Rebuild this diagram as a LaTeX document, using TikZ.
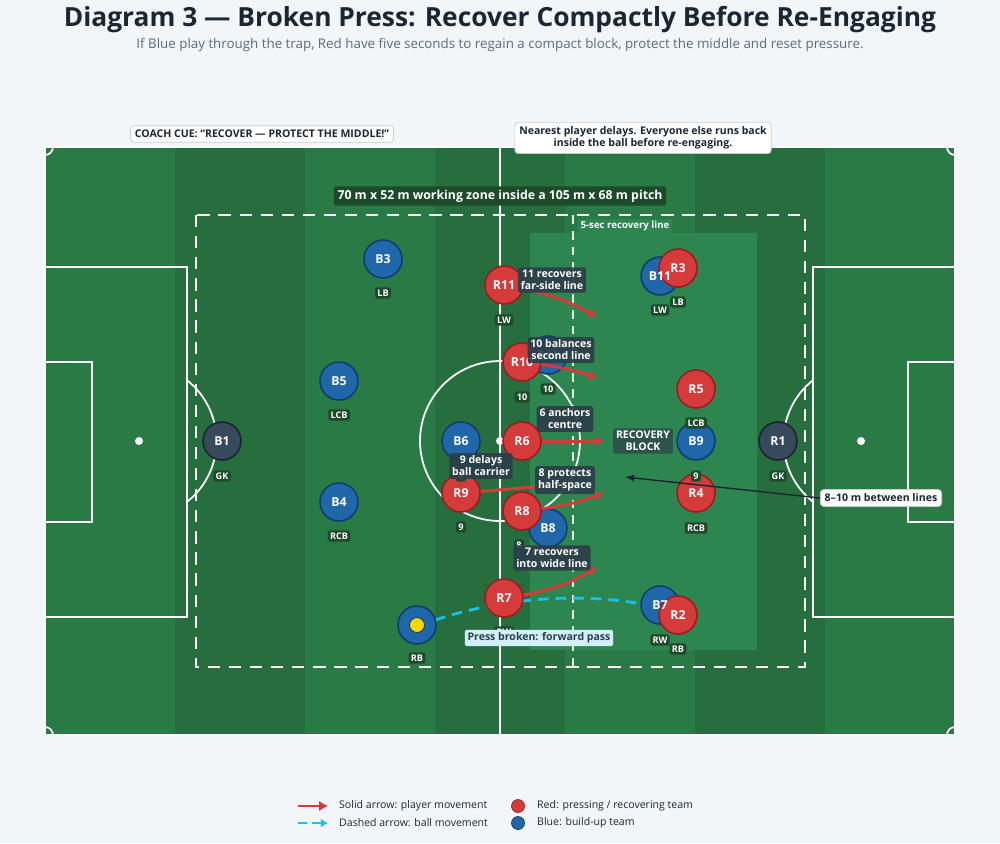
\documentclass[tikz,border=0pt]{standalone}
\usepackage{fontspec}
\setmainfont{Open Sans}
\usetikzlibrary{arrows.meta}
\definecolor{bg}{HTML}{F3F6F9}
\definecolor{pitch}{HTML}{2A7A45}
\definecolor{stripe}{HTML}{276E3F}
\definecolor{zone}{HTML}{2D8650}
\definecolor{redp}{HTML}{D63B3B}
\definecolor{redb}{HTML}{9B1C1C}
\definecolor{bluep}{HTML}{1F67A8}
\definecolor{blueb}{HTML}{0F3D6E}
\definecolor{keep}{HTML}{374A5B}
\definecolor{keepb}{HTML}{1A2530}
\definecolor{note}{HTML}{2C3E4A}
\definecolor{tagc}{HTML}{1E4A2C}
\definecolor{ink}{HTML}{1B2633}
\definecolor{sub}{HTML}{5B6B7B}
\definecolor{ball}{HTML}{19C3E8}
\tikzset{
  player/.style={circle,minimum size=0.76cm,inner sep=0pt,line width=0.9pt},
  red player/.style={player,fill=redp,draw=redb},
  blue player/.style={player,fill=bluep,draw=blueb},
  keeper/.style={player,fill=keep,draw=keepb},
  pname/.style={text=white,inner sep=0pt,font=\fontsize{7}{8}\selectfont\bfseries},
  tag/.style={fill=tagc,text=white,inner sep=1.3pt,rounded corners=1pt,font=\fontsize{5.2}{6}\selectfont\bfseries},
  cue/.style={fill=note,fill opacity=0.92,text opacity=1,text=white,align=center,inner sep=1.6pt,rounded corners=1pt,font=\fontsize{6}{6.8}\selectfont\bfseries},
  box/.style={fill=white,draw=gray!40,rounded corners=2pt,text=ink,align=center,inner sep=2.5pt,font=\fontsize{6}{6.8}\selectfont\bfseries},
  move/.style={-{Latex[length=5pt,width=6pt]},line width=1.7pt,color=redp},
  line/.style={white,line width=1pt}
}
\begin{document}
\begin{tikzpicture}[x=0.02cm,y=-0.02cm]
  \fill[bg] (0,0) rectangle (1000,843);
  \useasboundingbox (0,0) rectangle (1000,843);
  % pitch
  \fill[pitch] (45,147) rectangle (955,735);
  \foreach \s in {175,435,695}
    \fill[stripe] (\s,147) rectangle (\s+130,735);
  \fill[zone] (530,233) rectangle (757,650);
  \draw[line] (45,147) rectangle (955,735);
  \draw[line] (500,147) -- (500,735);
  \draw[line] (500,441) circle[radius=1.6cm];
  \fill[white] (500,441) circle[radius=0.08cm];
  \draw[line] (45,267) rectangle (187,617);
  \draw[line] (45,362) rectangle (92,522);
  \draw[line] (955,267) rectangle (813,617);
  \draw[line] (955,362) rectangle (908,522);
  \fill[white] (139,441) circle[radius=0.08cm];
  \fill[white] (861,441) circle[radius=0.08cm];
  \begin{scope}
    \clip (187,147) rectangle (300,735);
    \draw[line] (139,441) circle[radius=1.55cm];
  \end{scope}
  \begin{scope}
    \clip (813,147) rectangle (700,735);
    \draw[line] (861,441) circle[radius=1.55cm];
  \end{scope}
  \begin{scope}
    \clip (45,147) rectangle (955,735);
    \foreach \cx/\cy in {45/147,955/147,45/735,955/735}
      \draw[line] (\cx,\cy) circle[radius=0.16cm];
  \end{scope}

  % working zone
  \draw[white,line width=1.3pt,dash pattern=on 7pt off 5pt] (196,215) rectangle (805,667);
  \draw[white!85!zone,line width=1.3pt,dash pattern=on 5pt off 4pt] (573,215) -- (573,667);
  \node[fill=tagc,text=white,inner sep=2pt,rounded corners=1pt,font=\fontsize{7}{8}\selectfont\bfseries] (zone) at (500,196) {70 m x 52 m working zone inside a 105 m x 68 m pitch};
  \node[fill=zone,text=white,inner sep=1.5pt,font=\fontsize{5.5}{6}\selectfont\bfseries] (recline) at (625,226) {5-sec recovery line};

  % ball path
  \coordinate (pass) at (435,620);
  \draw[ball,line width=1.6pt,dash pattern=on 6pt off 4pt] (pass) .. controls (520,592) and (600,596) .. (642,604);

  % players
  \foreach \n/\x/\y in {B3/383/259,B5/339/381,B4/339/502,B6/461/441,B10/548/355,
      B8/548/528,B9/696/441,B11/660/276,B7/660/605,B2/417/625}
    \node[blue player] (\n) at (\x,\y) {};
  \node[keeper] (B1) at (222,441) {};
  \node[keeper] (R1) at (778,441) {};
  \foreach \n/\x/\y in {R11/504/285,R10/522/362,R6/522/441,R9/461/493,R8/522/511,
      R7/504/598,R3/678/268,R5/696/389,R4/696/493,R2/678/615}
    \node[red player] (\n) at (\x,\y) {};
  \fill[yellow!75!orange,draw=blueb,line width=0.5pt] (B2) circle[radius=0.15cm];
  \foreach \n in {B1,B3,B4,B5,B6,B7,B8,B9,B10,B11,R1,R2,R3,R4,R5,R6,R7,R8,R9,R10,R11}
    \node[pname] at (\n) {\n};
  \foreach \x/\y/\p in {383/293/LB,339/415/LCB,339/536/RCB,461/476/6,548/389/10,519/545/8,
      696/476/9,660/310/LW,660/640/RW,417/658/RB,222/476/GK,778/476/GK,504/320/LW,
      522/397/10,461/527/9,504/632/RW,678/302/LB,696/423/LCB,696/528/RCB,678/649/RB}
    \node[tag] at (\x,\y) {\p};

  % recovery runs
  \coordinate (t11) at (597,317);
  \coordinate (t10) at (597,378);
  \coordinate (t6) at (604,441);
  \coordinate (t9) at (570,484);
  \coordinate (t8) at (604,493);
  \coordinate (t7) at (597,567);
  \draw[move] (R11) to[bend left=8] (t11);
  \draw[move] (R10) to[bend left=5] (t10);
  \draw[move] (R6) -- (t6);
  \draw[-,line width=1.7pt,redp] (R9) -- (t9);
  \draw[move] (R8) to[bend right=6] (t8);
  \draw[move] (R7) to[bend right=10] (t7);

  % labels
  \node[cue] (c11) at (552,280) {11 recovers\\far-side line};
  \node[cue] (c10) at (561,350) {10 balances\\second line};
  \node[cue] (c6) at (565,419) {6 anchors\\centre};
  \node[cue] (c9) at (481,466) {9 delays\\ball carrier};
  \node[cue] (c8) at (565,480) {8 protects\\half-space};
  \node[cue] (c7) at (552,558) {7 recovers\\into wide line};
  \node[cue,fill=note!75!zone] (block) at (643,441) {RECOVERY\\BLOCK};
  \node[fill=cyan!18,text=note,inner sep=1.6pt,rounded corners=1pt,font=\fontsize{6}{6.8}\selectfont\bfseries] (press) at (539,638) {Press broken: forward pass};
  \node[box] (gap) at (881,498) {8–10 m between lines};
  \coordinate (gapend) at (625,477);
  \draw[-latex,ink,line width=0.8pt] (gap.west) -- (gapend);

  % cues on top
  \node[box] (coach) at (262,134) {COACH CUE: “RECOVER — PROTECT THE MIDDLE!”};
  \node[box] (rule) at (643,138) {Nearest player delays. Everyone else runs back\\inside the ball before re-engaging.};

  % title
  \node[text=ink,font=\fontsize{15}{18}\selectfont\bfseries] (title) at (500,20) {Diagram 3 — Broken Press: Recover Compactly Before Re-Engaging};
  \node[text=sub,font=\fontsize{7.6}{9}\selectfont] (subtitle) at (500,45) {If Blue play through the trap, Red have five seconds to regain a compact block, protect the middle and reset pressure.};

  % legend
  \coordinate (l1a) at (298,806);
  \coordinate (l1b) at (328,806);
  \coordinate (l2a) at (298,823);
  \coordinate (l2b) at (328,823);
  \draw[move,line width=1.5pt] (l1a) -- (l1b);
  \draw[ball,line width=1.5pt,dash pattern=on 5pt off 3pt,-{Latex[length=4pt,width=5pt]}] (l2a) -- (l2b);
  \node[anchor=west,font=\fontsize{6}{7}\selectfont,text=ink] (leg1) at (333,806) {Solid arrow: player movement};
  \node[anchor=west,font=\fontsize{6}{7}\selectfont,text=ink] (leg2) at (333,823) {Dashed arrow: ball movement};
  \fill[redp,draw=redb] (518,806) circle[radius=0.13cm];
  \fill[bluep,draw=blueb] (518,823) circle[radius=0.13cm];
  \node[anchor=west,font=\fontsize{6}{7}\selectfont,text=ink] (leg3) at (531,806) {Red: pressing / recovering team};
  \node[anchor=west,font=\fontsize{6}{7}\selectfont,text=ink] (leg4) at (531,823) {Blue: build-up team};
\end{tikzpicture}
\end{document}
